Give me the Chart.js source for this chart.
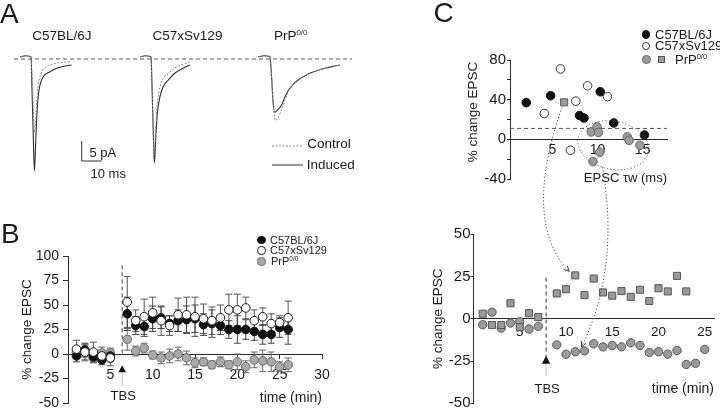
<!DOCTYPE html>
<html><head><meta charset="utf-8">
<script src="https://cdn.jsdelivr.net/npm/chart.js@4.4.1/dist/chart.umd.min.js"></script>
<style>
html,body{margin:0;padding:0;background:#fff}
body{position:relative;width:720px;height:411px;overflow:hidden;font-family:'Liberation Sans',Arial,Helvetica,sans-serif;color:#1a1a1a}
.t{position:absolute;white-space:nowrap;line-height:1}
.t sup{font-size:0.58em;vertical-align:0.6em;line-height:0}
canvas{position:absolute}
#ov{pointer-events:none}
.mk{position:absolute;box-sizing:border-box}
</style></head><body>
<canvas id="cA"></canvas><canvas id="cB"></canvas><canvas id="cCT"></canvas><canvas id="cCB"></canvas><canvas id="ov"></canvas>
<div id="txt"></div>
<script>
// ================= DATA =================
// Panel A - example EPSC sweeps: time from stimulus (ms), current (pA)
const bl6CtrlTime    = [-5.5,-3,-0.6,0,0.6,1.2,1.9,2.5,3.2,4.2,5.5,7.8,10,13,16.5,19.5];
const bl6CtrlCurrent = [0,0.3,0.2,0,-6,-13,-19,-14,-9,-5.5,-3.6,-2.4,-1.9,-1.5,-1.3,-1.2];
const bl6IndTime     = [-5.5,-3,-0.6,0,0.5,1.1,1.7,2.3,3,3.8,4.8,6,9.5,12,15,18,20.3];
const bl6IndCurrent  = [0,0.3,0.2,0,-8,-19,-28.5,-22,-14,-9,-6.5,-5,-3.7,-3,-2.5,-2.2,-2];
const sv129CtrlTime    = [-5.5,-3,-0.6,0,0.6,1.0,1.6,2.2,2.9,3.7,4.5,6,8.7,12,16,19.5];
const sv129CtrlCurrent = [0,0.3,0.2,0,-9,-17,-24.5,-19,-13,-9.5,-7.4,-5.4,-4.1,-2.7,-1.8,-1.2];
const sv129IndTime     = [-5.5,-3,-0.6,0,0.6,1.1,1.7,2.4,3.2,4.5,6,8.7,12,16,19.5];
const sv129IndCurrent  = [0,0.3,0.2,0,-9,-18,-26.5,-20,-14,-9.9,-7.5,-5.7,-4,-2.8,-2];
const prpCtrlTime    = [-6,-3,-0.6,0,0.8,1.6,2.8,4,5.8,7.5,9.2,11.5,14.2,17.5,20.8,24,27.5,31,35];
const prpCtrlCurrent = [0,0.3,0.2,0,-5,-12,-15.9,-15.2,-13.2,-10.8,-8.6,-7,-5.8,-4.7,-3.9,-3.3,-2.8,-2.4,-2];
const prpIndTime     = [-6,-3,-0.6,0,0.8,1.5,2.3,3.5,5.8,7.5,9.2,11.5,14.2,17.5,20.8,24,27.5,31,35];
const prpIndCurrent  = [0,0.3,0.2,0,-5,-11,-13.8,-13.4,-12,-10,-8.3,-6.9,-5.7,-4.7,-3.9,-3.3,-2.8,-2.4,-2];
const strainNames = ['C57BL/6J','C57xSv129','PrP'];
const strainSup   = ['','','0/0'];
const traceNames  = ['Control','Induced'];
const scaleBarPA = 5, scaleBarMS = 10;

// Panel B - % change EPSC vs time (min), mean and s.e.m.
const timeB = [1,2,3,4,5,7,8,9,10,11,12,13,14,15,16,17,18,19,20,21,22,23,24,25,26];
const bl6Change   = [-2,4,-3,-6,-2,41,29,28,36,37,31,34,35,36,30,31,29,25,25,25,23,20,20,27,25];
const bl6Sem      = [6,7,6,5,6,17,9,10,13,11,8,11,14,14,11,14,9,9,14,10,9,10,9,10,15];
const sv129Change = [5,2,2,-2,-4,53,34,38,42,34,29,40,40,38,36,34,37,45,45,47,34,38,31,32,37];
const sv129Sem    = [9,8,10,6,8,26,11,18,16,15,10,17,18,20,15,14,13,16,16,11,11,9,10,7,17];
const prpChange   = [2,1,-4,1,1,15,3,6,-1,-4,-2,0,-4,-9,-8,-11,-8,-11,-8,-13,-6,-7,-8,-13,-11];
const prpSem      = [5,8,4,6,5,11,5,5,4,6,7,7,7,5,4,4,5,4,8,6,8,11,10,5,7];
const tickBX = [5,10,15,20,25,30];
const tickBY = [-50,-25,0,25,50,75,100];
const tbsTimeB = 6.4;

// Panel C top - % change EPSC vs EPSC tau w (ms)
const bl6Tau        = [2.1,4.8,8.0,8.5,10.3,11.8,15.2];
const bl6TauChange  = [37,44,24,21.5,48,16.5,4.4];
const sv129Tau       = [4.1,5.9,7.6,7.0,8.9,11.1];
const sv129TauChange = [26,71,38.5,-11,54,43];
const prpTau         = [9.3,9.95,10.1,10.25,9.5,13.3,13.5,14.7];
const prpTauChange   = [7.5,12.5,7,-13,-22.5,2.5,-1,-6];
const prpCellTau     = [6.3];
const prpCellChange  = [37.3];
const tickCTX = [5,10,15];
const tickCTY = [-40,-20,0,20,40,60,80];
const labelCTY = [-40,0,40,80];
const thresholdCT = 11;

// Panel C bottom - two single PrP0/0 cells, % change EPSC vs time (min)
const timeSquare   = [1,2,3,4,5,6,7,9,10,11,12,13,14,15,16,17,18,19,20,21,22,23];
const changeSquare = [3,-3.7,-3.7,9.2,-5,3.3,1,15,17.5,25.7,14,23.8,15.6,13.7,16.4,13,17.2,10.5,18.1,16.2,25.4,16.2];
const timeCircle   = [1,2,3,4,5,6,7,9,10,11,12,13,14,15,16,17,18,19,20,21,22,23,24,25];
const changeCircle = [-3.5,3.9,-5.5,-2.5,-1.6,-6,-4.5,-15.4,-21,-19.5,-19,-14.8,-16.6,-15.8,-16.6,-14.2,-15.8,-19.9,-19.5,-20.9,-18.7,-27,-26.3,-18.1];
const tickCBX = [5,10,15,20,25];
const tickCBY = [-50,-25,0,25,50];
const tbsTimeC = 7.85;

// ================= LAYOUT / STYLE =================
const FONT = "'Liberation Sans', Arial, Helvetica, sans-serif";
const INK = '#1a1a1a', AX = '#2a2a2a';
const BOX = {
  A:  {left:0,   top:30,  w:360, h:170},
  B:  {left:0,   top:220, w:360, h:191},
  CT: {left:360, top:0,   w:360, h:190},
  CB: {left:360, top:200, w:360, h:211}
};
const sweepOnset = [15.5, 75.5, 135];   // ms position of each sweep along panel A
Chart.defaults.font.family = FONT;
Chart.defaults.color = INK;
Chart.defaults.animation = false;

function setup(id, r) {
  const c = document.getElementById(id);
  c.width = r.w; c.height = r.h;
  Object.assign(c.style, {left:r.left+'px', top:r.top+'px', width:r.w+'px', height:r.h+'px'});
  return c;
}
function yAxis(min, max, ticks, labelFn, width, fs, tl, pad, title, titlePad) {
  return {type:'linear', position:'left', min, max,
    afterBuildTicks: s => { s.ticks = ticks.map(v => ({value:v})); },
    afterFit: s => { s.width = width; s.paddingTop = 0; s.paddingBottom = 0; },
    grid:{display:true, drawOnChartArea:false, drawTicks:true, tickLength:tl, color:AX, lineWidth:1},
    border:{display:true, color:AX, width:1},
    ticks:{font:{size:fs}, padding:pad, color:INK, autoSkip:false, callback: labelFn},
    title: title ? {display:true, text:title, font:{size:13.5}, color:INK, padding:{top:titlePad, bottom:0}} : {display:false}
  };
}
function xAxis(min, max, ticks, height, fs, tl, pad, title, tfs) {
  return {type:'linear', position:{y:0}, min, max,
    afterBuildTicks: s => { s.ticks = ticks.map(v => ({value:v})); },
    afterFit: s => { s.height = height; s.paddingLeft = 0; s.paddingRight = 0; },
    grid:{display: tl > 0, drawOnChartArea:false, drawTicks: tl > 0, tickLength: tl, color:AX},
    border:{display:true, color:AX, width:1},
    ticks:{font:{size:fs}, padding:pad, maxRotation:0, autoSkip:false, color:INK},
    title:{display:true, text:title, align:'end', font:{size:tfs}, padding:0, color:INK}
  };
}
const baseOpts = {responsive:false, animation:false, events:[], plugins:{legend:{display:false}, tooltip:{enabled:false}}};

// ================= PANEL A =================
const sweeps = [
  [bl6CtrlTime, bl6CtrlCurrent, bl6IndTime, bl6IndCurrent],
  [sv129CtrlTime, sv129CtrlCurrent, sv129IndTime, sv129IndCurrent],
  [prpCtrlTime, prpCtrlCurrent, prpIndTime, prpIndCurrent]
];
const aSets = [];
sweeps.forEach((s, k) => {
  aSets.push({label: traceNames[0], data: s[0].map((t,i) => ({x: t + sweepOnset[k], y: s[1][i]})),
    borderColor:'#8c8c8c', borderWidth:1, borderDash:[2,1.5], pointRadius:0, cubicInterpolationMode:'monotone', fill:false});
  aSets.push({label: traceNames[1], data: s[2].map((t,i) => ({x: t + sweepOnset[k], y: s[3][i]})),
    borderColor:'#2e2e2e', borderWidth:1.1, pointRadius:0, cubicInterpolationMode:'monotone', fill:false});
});
const aDecor = {id:'aDecor', afterDatasetsDraw(ch) {
  const {ctx, scales:{x, y}} = ch;
  ctx.save();
  ctx.strokeStyle = '#555'; ctx.lineWidth = 1; ctx.setLineDash([4,3]);
  ctx.beginPath(); ctx.moveTo(x.getPixelForValue(7), y.getPixelForValue(-0.5)); ctx.lineTo(x.getPixelForValue(176), y.getPixelForValue(-0.5)); ctx.stroke();
  ctx.setLineDash([]); ctx.strokeStyle = '#333';
  const bx = x.getPixelForValue(40.85), by = y.getPixelForValue(-26);
  ctx.beginPath(); ctx.moveTo(bx, y.getPixelForValue(-26 + scaleBarPA)); ctx.lineTo(bx, by); ctx.lineTo(x.getPixelForValue(40.85 + scaleBarMS), by); ctx.stroke();
  ctx.strokeStyle = '#8c8c8c'; ctx.setLineDash([2,1.5]);
  ctx.beginPath(); ctx.moveTo(x.getPixelForValue(136), y.getPixelForValue(-22.25)); ctx.lineTo(x.getPixelForValue(151.5), y.getPixelForValue(-22.25)); ctx.stroke();
  ctx.strokeStyle = '#2e2e2e'; ctx.setLineDash([]);
  ctx.beginPath(); ctx.moveTo(x.getPixelForValue(136), y.getPixelForValue(-27)); ctx.lineTo(x.getPixelForValue(151.5), y.getPixelForValue(-27)); ctx.stroke();
  ctx.restore();
}};
const chA = new Chart(setup('cA', BOX.A), {type:'line', data:{datasets:aSets},
  options:Object.assign({}, baseOpts, {layout:{padding:0},
    scales:{x:{type:'linear', display:false, min:0, max:180}, y:{display:false, min:-35.75, max:6.75}}}),
  plugins:[aDecor]});

// ================= PANEL B =================
const bSets = [
  {label:strainNames[1], data: timeB.map((t,i) => ({x:t, y:sv129Change[i]})), err: sv129Sem, errColor:'#555',
   pointRadius:4.3, pointBackgroundColor:'#fff', pointBorderColor:INK, pointBorderWidth:1, clip:false},
  {label:strainNames[0], data: timeB.map((t,i) => ({x:t, y:bl6Change[i]})), err: bl6Sem, errColor:'#444',
   pointRadius:4.3, pointBackgroundColor:'#111', pointBorderColor:'#111', pointBorderWidth:1, clip:false},
  {label:strainNames[2], data: timeB.map((t,i) => ({x:t, y:prpChange[i]})), err: prpSem, errColor:'#666',
   pointRadius:4.3, pointBackgroundColor:'#a9a9a9', pointBorderColor:'#6c6c6c', pointBorderWidth:1, clip:false}
];
const bDecor = {id:'bDecor', beforeDatasetsDraw(ch) {
  const {ctx, scales:{x, y}} = ch;
  ctx.save(); ctx.lineWidth = 1;
  ch.data.datasets.forEach(ds => {
    ctx.strokeStyle = ds.errColor;
    ds.data.forEach((p, i) => {
      const e = ds.err[i], px = x.getPixelForValue(p.x);
      const yt = y.getPixelForValue(p.y + e), yb = y.getPixelForValue(p.y - e);
      ctx.beginPath(); ctx.moveTo(px, yt); ctx.lineTo(px, yb);
      ctx.moveTo(px - 3.5, yt); ctx.lineTo(px + 3.5, yt);
      ctx.moveTo(px - 3.5, yb); ctx.lineTo(px + 3.5, yb); ctx.stroke();
    });
  });
  const tx = x.getPixelForValue(tbsTimeB);
  ctx.strokeStyle = '#444'; ctx.setLineDash([4,3]);
  ctx.beginPath(); ctx.moveTo(tx, y.getPixelForValue(90.5)); ctx.lineTo(tx, y.getPixelForValue(0)); ctx.stroke();
  ctx.setLineDash([]); ctx.strokeStyle = '#bbb';
  ctx.beginPath(); ctx.moveTo(tx, y.getPixelForValue(-18.5)); ctx.lineTo(tx, y.getPixelForValue(-32.5)); ctx.stroke();
  ctx.fillStyle = '#111';
  ctx.beginPath(); ctx.moveTo(tx, y.getPixelForValue(-11.5)); ctx.lineTo(tx + 3.8, y.getPixelForValue(-18.5)); ctx.lineTo(tx - 3.8, y.getPixelForValue(-18.5)); ctx.closePath(); ctx.fill();
  ctx.fillStyle = INK; ctx.font = '13px ' + FONT; ctx.textAlign = 'center'; ctx.textBaseline = 'middle';
  ctx.fillText('TBS', tx + 1, y.getPixelForValue(-42.8));
  ctx.restore();
}};
const chB = new Chart(setup('cB', BOX.B), {type:'scatter', data:{datasets:bSets},
  options:Object.assign({}, baseOpts, {layout:{padding:{left:0, top:36, right:38, bottom:8}},
    scales:{
      x: xAxis(0, 30, tickBX, 52.4, 14, 4, 8.6, 'time (min)', 14),
      y: yAxis(-50, 100, tickBY, v => v, 68, 14, 5, 4, '% change EPSC', 19.6)
    }}),
  plugins:[bDecor]});

// ================= PANEL C top =================
const ellipseCT = {tau:11.74, change:-6, rTau:3.97, rChange:24.2, rot:0.2};
const ctSets = [
  {label:strainNames[0], data: bl6Tau.map((t,i) => ({x:t, y:bl6TauChange[i]})),
   pointRadius:4.3, pointBackgroundColor:'#111', pointBorderColor:'#111', clip:false},
  {label:strainNames[1], data: sv129Tau.map((t,i) => ({x:t, y:sv129TauChange[i]})),
   pointRadius:4.3, pointBackgroundColor:'#fff', pointBorderColor:'#333', pointBorderWidth:1, clip:false},
  {label:strainNames[2], data: prpTau.map((t,i) => ({x:t, y:prpTauChange[i]})),
   pointRadius:4.3, pointBackgroundColor:'#9c9c9c', pointBorderColor:'#666', pointBorderWidth:1, clip:false},
  {label:strainNames[2] + ' cell', data: prpCellTau.map((t,i) => ({x:t, y:prpCellChange[i]})), pointStyle:'rect',
   pointRadius:5, pointBackgroundColor:'#9c9c9c', pointBorderColor:'#555', pointBorderWidth:1, clip:false}
];
const ctDecor = {id:'ctDecor',
  beforeDatasetsDraw(ch) {
    const {ctx, scales:{x, y}} = ch;
    ctx.save(); ctx.strokeStyle = '#555'; ctx.lineWidth = 1; ctx.setLineDash([4,3]);
    ctx.beginPath(); ctx.moveTo(x.getPixelForValue(x.min), y.getPixelForValue(thresholdCT)); ctx.lineTo(x.getPixelForValue(x.max), y.getPixelForValue(thresholdCT)); ctx.stroke();
    ctx.restore();
  },
  afterDatasetsDraw(ch) {
    const {ctx, scales:{x, y}} = ch;
    ctx.save();
    const cx = x.getPixelForValue(ellipseCT.tau), cy = y.getPixelForValue(ellipseCT.change);
    const rx = x.getPixelForValue(ellipseCT.tau + ellipseCT.rTau) - cx, ry = cy - y.getPixelForValue(ellipseCT.change + ellipseCT.rChange);
    ctx.strokeStyle = '#555'; ctx.lineWidth = 1; ctx.setLineDash([1.2,2.2]);
    ctx.beginPath(); ctx.ellipse(cx, cy, rx, ry, ellipseCT.rot, 0, Math.PI * 2); ctx.stroke();
    ctx.setLineDash([]);
    ctx.fillStyle = INK; ctx.font = '13.5px ' + FONT; ctx.textAlign = 'center'; ctx.textBaseline = 'middle';
    ctx.translate(113, 112); ctx.rotate(-Math.PI / 2); ctx.fillText('% change EPSC', 0, 0);
    ctx.restore();
  }};
const chCT = new Chart(setup('cCT', BOX.CT), {type:'scatter', data:{datasets:ctSets},
  options:Object.assign({}, baseOpts, {layout:{padding:{left:95, top:60, right:53, bottom:11}},
    scales:{
      x: xAxis(0.3, 17.7, tickCTX, 46.8, 14, 0, 2.6, 'EPSC \u03c4w (ms)', 13),
      y: yAxis(-40, 80, tickCTY, v => labelCTY.includes(v) ? v : '', 55, 15, 3, 1, null, 0)
    }}),
  plugins:[ctDecor]});

// ================= PANEL C bottom =================
const cbSets = [
  {label:'cell 1', data: timeSquare.map((t,i) => ({x:t, y:changeSquare[i]})), pointStyle:'rect',
   pointRadius:5, pointBackgroundColor:'#9a9a9a', pointBorderColor:'#555', pointBorderWidth:1, clip:false},
  {label:'cell 2', data: timeCircle.map((t,i) => ({x:t, y:changeCircle[i]})),
   pointRadius:4.2, pointBackgroundColor:'#9a9a9a', pointBorderColor:'#5a5a5a', pointBorderWidth:1, clip:false}
];
const cbDecor = {id:'cbDecor', beforeDatasetsDraw(ch) {
  const {ctx, scales:{x, y}} = ch;
  ctx.save(); ctx.lineWidth = 1;
  const tx = x.getPixelForValue(tbsTimeC);
  ctx.strokeStyle = '#333'; ctx.setLineDash([4,3]);
  ctx.beginPath(); ctx.moveTo(tx, y.getPixelForValue(24.4)); ctx.lineTo(tx, y.getPixelForValue(-22.3)); ctx.stroke();
  ctx.setLineDash([]); ctx.strokeStyle = '#bbb';
  ctx.beginPath(); ctx.moveTo(tx, y.getPixelForValue(-26.6)); ctx.lineTo(tx, y.getPixelForValue(-33.7)); ctx.stroke();
  ctx.fillStyle = '#111';
  ctx.beginPath(); ctx.moveTo(tx, y.getPixelForValue(-21.8)); ctx.lineTo(tx + 4.2, y.getPixelForValue(-26.6)); ctx.lineTo(tx - 4.2, y.getPixelForValue(-26.6)); ctx.closePath(); ctx.fill();
  ctx.fillStyle = INK; ctx.font = '13px ' + FONT; ctx.textAlign = 'center'; ctx.textBaseline = 'middle';
  ctx.fillText('TBS', tx + 1, y.getPixelForValue(-41.7));
  ctx.restore();
}};
const chCB = new Chart(setup('cCB', BOX.CB), {type:'scatter', data:{datasets:cbSets},
  options:Object.assign({}, baseOpts, {layout:{padding:{left:58.5, top:34.3, right:0, bottom:7.7}},
    scales:{
      x: xAxis(0, 26, tickCBX, 78.4, 13.5, 0, 5.6, 'time (min)', 14),
      y: yAxis(-50, 50, tickCBY, v => v, 55, 15, 3, 0, '% change EPSC', 11.6)
    }}),
  plugins:[cbDecor]});

// ================= overlay arrows linking C top and C bottom =================
(function () {
  const ov = setup('ov', {left:0, top:0, w:720, h:411});
  const ctx = ov.getContext('2d');
  const pt = (ch, box, xv, yv) => [box.left + ch.scales.x.getPixelForValue(xv), box.top + ch.scales.y.getPixelForValue(yv)];
  function arrow(p0, p1, p2, p3) {
    ctx.save(); ctx.strokeStyle = '#444'; ctx.lineWidth = 1; ctx.setLineDash([1.2,2.2]);
    ctx.beginPath(); ctx.moveTo(p0[0], p0[1]); ctx.bezierCurveTo(p1[0], p1[1], p2[0], p2[1], p3[0], p3[1]); ctx.stroke();
    ctx.setLineDash([]);
    const a = Math.atan2(p3[1] - p2[1], p3[0] - p2[0]);
    ctx.beginPath();
    ctx.moveTo(p3[0] - 6 * Math.cos(a - 0.45), p3[1] - 6 * Math.sin(a - 0.45)); ctx.lineTo(p3[0], p3[1]);
    ctx.lineTo(p3[0] - 6 * Math.cos(a + 0.45), p3[1] - 6 * Math.sin(a + 0.45)); ctx.stroke();
    ctx.restore();
  }
  const s0 = pt(chCT, BOX.CT, prpCellTau[0], prpCellChange[0]);
  const kS = timeSquare.indexOf(11);
  const s1 = pt(chCB, BOX.CB, timeSquare[kS], changeSquare[kS]);
  const a0 = [s0[0] - 2, s0[1] + 5], a3 = [s1[0] - 6, s1[1] - 4];
  arrow(a0, [a0[0] - 23, a0[1] + 63], [a3[0] - 36, a3[1] - 36], a3);
  const sx = chCT.scales.x, sy = chCT.scales.y;
  const ecx = BOX.CT.left + sx.getPixelForValue(ellipseCT.tau), ecy = BOX.CT.top + sy.getPixelForValue(ellipseCT.change);
  const erx = sx.getPixelForValue(ellipseCT.tau + ellipseCT.rTau) - sx.getPixelForValue(ellipseCT.tau);
  const ery = sy.getPixelForValue(ellipseCT.change) - sy.getPixelForValue(ellipseCT.change + ellipseCT.rChange);
  const th = 1.75, c = Math.cos(ellipseCT.rot), s = Math.sin(ellipseCT.rot);
  const lx = erx * Math.cos(th), ly = ery * Math.sin(th);
  const b0 = [ecx + lx * c - ly * s, ecy + lx * s + ly * c];
  const kC = timeCircle.indexOf(12);
  const c1 = pt(chCB, BOX.CB, timeCircle[kC], changeCircle[kC]);
  const b3 = [c1[0] - 3, c1[1] - 4];
  arrow(b0, [b0[0] + 11, b0[1] + 60], [b3[0] + 28, b3[1] - 57], b3);
})();

// ================= text (panel letters, labels, legends) =================
(function () {
  const host = document.getElementById('txt');
  function txt(s, left, top, size, html) {
    const d = document.createElement('div'); d.className = 't';
    d.style.left = left + 'px'; d.style.top = top + 'px'; d.style.fontSize = size + 'px';
    if (html) d.innerHTML = s; else d.textContent = s;
    host.appendChild(d); return d;
  }
  function mark(cx, cy, size, bg, bd, round) {
    const d = document.createElement('div'); d.className = 'mk';
    Object.assign(d.style, {left:(cx - size/2)+'px', top:(cy - size/2)+'px', width:size+'px', height:size+'px',
      background:bg, border:'1px solid ' + bd, borderRadius: round ? '50%' : '0'});
    host.appendChild(d);
  }
  const nameHTML = k => strainNames[k] + (strainSup[k] ? '<sup>' + strainSup[k] + '</sup>' : '');
  txt('A', 0, -0.5, 28); txt('B', 1, 219.5, 28); txt('C', 433.5, -1, 28);
  txt(nameHTML(0), 32.3, 29.4, 13.5, true);
  txt(nameHTML(1), 152.6, 29.4, 13.5, true);
  txt(nameHTML(2), 274, 29.4, 13.5, true);
  txt(scaleBarPA + ' pA', 89.5, 146.4, 13);
  txt(scaleBarMS + ' ms', 90.5, 166.6, 13);
  txt(traceNames[0], 307.3, 137.4, 13.5);
  txt(traceNames[1], 306.8, 158.4, 13.5);
  const rowsB = [240, 250.3, 261.5];
  mark(261.7, rowsB[0], 8.6, '#111', '#111', true);
  mark(261.7, rowsB[1], 8.6, '#fff', INK, true);
  mark(261.7, rowsB[2], 8.6, '#a9a9a9', '#6c6c6c', true);
  txt(nameHTML(0), 270, rowsB[0] - 5.4, 11, true);
  txt(nameHTML(1), 270, rowsB[1] - 5.4, 11, true);
  txt(nameHTML(2), 271, rowsB[2] - 5.4, 11, true);
  const rowsC = [34.3, 45.8, 59.3];
  mark(646, rowsC[0], 8.6, '#111', '#111', true);
  mark(646, rowsC[1], 8.6, '#fff', '#333', true);
  mark(646.5, rowsC[2], 8.6, '#9c9c9c', '#666', true);
  mark(661.7, rowsC[2], 7.6, '#9c9c9c', '#555', false);
  txt(nameHTML(0), 655, rowsC[0] - 6.35, 13, true);
  txt(nameHTML(1), 655, rowsC[1] - 6.35, 13, true);
  txt(nameHTML(2), 675, rowsC[2] - 6.35, 13, true);
})();
</script>
</body></html>
